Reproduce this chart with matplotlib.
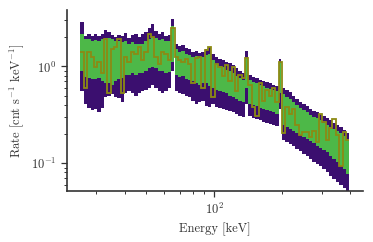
import numpy as np
import matplotlib
matplotlib.use("Agg")
import matplotlib.pyplot as plt

plt.rcParams['font.family'] = ['serif']
plt.rcParams['font.serif'] = ['cmr10', 'DejaVu Serif']
plt.rcParams['mathtext.fontset'] = 'cm'
plt.rcParams['axes.formatter.use_mathtext'] = True

# channel grid (keV)
e_min, e_max, n_chan = 25.5, 395.0, 80
edges = np.geomspace(e_min, e_max, n_chan + 1)
# the spectrum is made of separate channel groups (last channel index of each group)
group_ends = [27, 49, 59, 79]

upper95 = [2.90,2.05,2.15,2.05,2.15,2.05,2.15,2.38,2.26,2.10,2.00,2.10,2.05,2.21,1.95,2.10,2.15,2.00,2.15,2.26,2.50,2.76,2.32,2.15,2.26,2.05,2.10,
           3.12,
           1.72,1.64,1.68,1.56,1.52,1.41,1.45,1.38,1.41,1.52,1.60,1.35,1.25,1.19,1.16,1.10,1.08,1.025,0.952,0.905,0.862,
           1.45,
           0.820,0.781,0.762,0.725,0.707,0.690,0.673,0.641,0.625,
           1.19,
           0.594,0.566,0.539,0.500,0.464,0.431,0.410,0.390,0.362,0.345,0.336,0.320,0.305,0.290,0.276,0.263,0.250,0.238,0.221,0.205]
upper68 = [2.15,1.90,1.90,1.81,1.86,1.81,1.90,1.95,1.95,1.90,1.81,1.81,1.77,1.81,1.72,1.77,1.72,1.72,1.72,1.81,1.90,2.00,1.95,1.86,1.90,1.81,1.81,
           2.63,
           1.52,1.41,1.45,1.35,1.31,1.25,1.28,1.22,1.25,1.31,1.35,1.16,1.05,1.00,0.976,0.928,0.905,0.862,0.800,0.762,0.725,
           1.22,
           0.725,0.690,0.673,0.641,0.625,0.594,0.580,0.566,0.552,
           1.08,
           0.513,0.488,0.464,0.431,0.400,0.372,0.354,0.336,0.312,0.297,0.290,0.276,0.263,0.250,0.238,0.226,0.215,0.205,0.190,0.177]
lower68 = [0.905,0.781,0.762,0.743,0.743,0.762,0.707,0.673,0.673,0.641,0.707,0.743,0.762,0.820,0.820,0.862,0.820,0.862,0.862,0.905,0.952,0.976,0.952,0.905,0.905,0.862,0.884,
           1.10,
           0.820,0.781,0.800,0.743,0.725,0.707,0.673,0.641,0.673,0.673,0.625,0.594,0.566,0.552,0.539,0.525,0.500,0.488,0.464,0.442,0.431,
           0.594,
           0.410,0.400,0.390,0.372,0.362,0.354,0.345,0.336,0.320,
           0.525,
           0.250,0.238,0.226,0.215,0.205,0.195,0.186,0.177,0.168,0.160,0.152,0.145,0.138,0.131,0.119,0.110,0.1025,0.093,0.086,0.078]
lower95 = [0.552,0.410,0.372,0.354,0.362,0.336,0.372,0.488,0.500,0.513,0.488,0.476,0.431,0.525,0.552,0.525,0.500,0.525,0.552,0.566,0.594,0.641,0.594,0.552,0.525,0.552,0.594,
           0.905,
           0.552,0.525,0.513,0.500,0.488,0.442,0.410,0.431,0.442,0.390,0.381,0.410,0.381,0.372,0.362,0.354,0.345,0.336,0.320,0.305,0.297,
           0.410,
           0.305,0.290,0.283,0.276,0.269,0.263,0.256,0.250,0.244,
           0.362,
           0.172,0.164,0.156,0.149,0.141,0.135,0.125,0.119,0.110,0.1025,0.0976,0.093,0.086,0.080,0.074,0.069,0.064,0.059,0.055,0.0515]
observed = [1.41,0.594,1.41,1.25,0.976,1.10,0.862,1.90,0.525,1.52,1.60,1.90,0.525,1.25,1.10,1.41,1.35,1.60,1.16,1.41,2.15,2.00,1.25,1.05,1.41,1.35,1.16,
            2.50,
            1.25,1.16,1.10,1.19,1.05,0.673,1.22,1.25,0.594,1.49,1.60,0.488,1.05,0.976,0.800,1.025,0.707,0.976,0.552,0.820,0.762,
            1.22,
            0.641,0.381,0.305,0.673,0.442,0.566,0.500,0.594,0.431,
            1.10,
            0.205,0.381,0.320,0.362,0.250,0.195,0.210,0.210,0.186,0.215,0.164,0.320,0.269,0.172,0.232,0.283,0.195,0.093,0.210,0.172]

c_outer = '#3b0f6f'
c_inner = '#4db848'
c_line = '#8c8a14'
c_axis = '#333333'

fig = plt.figure(figsize=(3.73, 2.42), dpi=100)
ax = fig.add_axes([67/373, 1 - 191/242, (362.7 - 67)/373, (191 - 10)/242])

u95, u68 = np.array(upper95), np.array(upper68)
l68, l95 = np.array(lower68), np.array(lower95)
start = 0
for end in group_ends:
    seg_edges = edges[start:end + 2].copy()
    if end != group_ends[-1]:
        seg_edges[-1] *= 0.992  # small gap between channel groups
    ax.stairs(u95[start:end + 1], seg_edges, baseline=l95[start:end + 1],
              fill=True, color=c_outer, lw=0)
    ax.stairs(u68[start:end + 1], seg_edges, baseline=l68[start:end + 1],
              fill=True, color=c_inner, lw=0)
    start = end + 1
ax.stairs(observed, edges, baseline=None, color=c_line, lw=1.3)

ax.set_xscale('log')
ax.set_yscale('log')
ax.margins(0.05)

for s in ['top', 'right']:
    ax.spines[s].set_visible(False)
for s in ['left', 'bottom']:
    ax.spines[s].set_color(c_axis)
    ax.spines[s].set_linewidth(1.2)
ax.tick_params(which='major', length=4, width=0.9, color=c_axis, labelcolor=c_axis, labelsize=9)
ax.tick_params(which='minor', length=2.2, width=0.7, color=c_axis)

ax.set_xlabel('Energy [keV]', fontsize=9, color=c_axis)
ax.set_ylabel(r'Rate [cnt s$^{-1}$ keV$^{-1}$]', fontsize=9, color=c_axis)

fig.savefig('out.png', dpi=100)
